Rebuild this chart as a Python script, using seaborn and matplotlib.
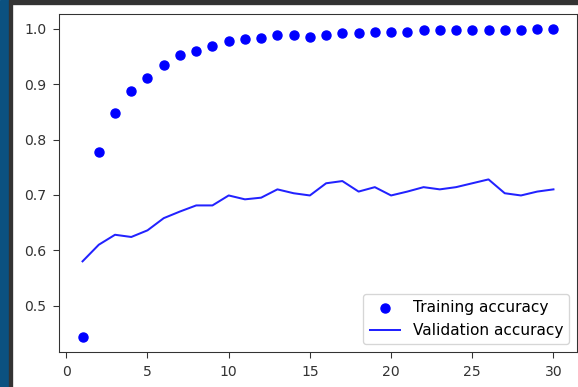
import seaborn as sns
import matplotlib.pyplot as plt
import matplotlib.patches as mpatches
import pandas as pd

# values
epochs = list(range(1, 31))
train_acc = [0.444, 0.778, 0.848, 0.888, 0.912, 0.935, 0.952, 0.960, 0.969, 0.978,
             0.981, 0.983, 0.989, 0.989, 0.986, 0.989, 0.992, 0.992, 0.995, 0.994,
             0.994, 0.997, 0.997, 0.997, 0.997, 0.997, 0.997, 0.997, 0.999, 0.999]
val_acc = [0.580, 0.610, 0.628, 0.624, 0.636, 0.658, 0.670, 0.681, 0.681, 0.699,
           0.692, 0.695, 0.710, 0.703, 0.699, 0.721, 0.725, 0.706, 0.714, 0.699,
           0.706, 0.714, 0.710, 0.714, 0.721, 0.728, 0.703, 0.699, 0.706, 0.710]

df = pd.DataFrame({'epoch': epochs, 'train': train_acc, 'val': val_acc})

dpi = 96.33
fig = plt.figure(figsize=(578 / dpi, 387 / dpi), dpi=dpi)
ax = fig.add_axes([59 / 578, 1 - 352 / 387, 518 / 578, 338 / 387])

sns.scatterplot(data=df, x='epoch', y='train', color='b', s=46,
                edgecolor='b', linewidth=1, label='Training accuracy', ax=ax)
sns.lineplot(data=df, x='epoch', y='val', color='#2222ff', linewidth=1.5,
             label='Validation accuracy', ax=ax)

ax.set_xlabel('')
ax.set_ylabel('')
ax.set_xticks([0, 5, 10, 15, 20, 25, 30])
ax.tick_params(labelsize=10.5, length=4.5, pad=5, color='#333333', labelcolor='#333333')
for s in ax.spines.values():
    s.set_color('#333333')
ax.legend(loc='lower right', fontsize=11.5)

# screenshot border strips
fig.patches.append(mpatches.Rectangle((9 / 578, 1 - 4 / 387), 1, 4 / 387,
                                      transform=fig.transFigure, color='#333333', zorder=5))
fig.patches.append(mpatches.Rectangle((0, 0), 9 / 578, 1,
                                      transform=fig.transFigure, color='#0b5180', zorder=6))
fig.patches.append(mpatches.Rectangle((9 / 578, 0), 3 / 578, 1,
                                      transform=fig.transFigure, color='#333333', zorder=6))

fig.savefig('out.png', dpi=dpi)
